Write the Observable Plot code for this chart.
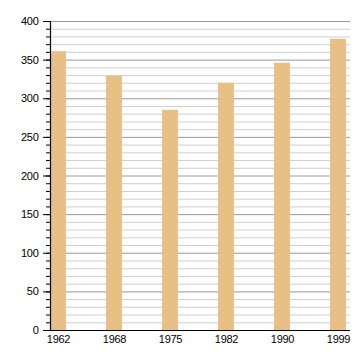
<!DOCTYPE html>
<html><head><meta charset="utf-8">
<script src="https://cdn.jsdelivr.net/npm/d3@7"></script>
<script src="https://cdn.jsdelivr.net/npm/@observablehq/plot@0.6"></script>
<style>body{margin:0;background:#fff}</style>
</head><body><div id="chart"></div>
<script>
const years = ["1962","1968","1975","1982","1990","1999"];
const values = [361, 329, 285, 320, 346, 377];
const minorTicks = d3.range(0, 401, 10);
const majorTicks = d3.range(0, 401, 50);
const data = years.map((y, i) => ({year: y, value: values[i]}));

const chart = Plot.plot({
  width: 360, height: 360,
  marginLeft: 50, marginRight: 10, marginTop: 21, marginBottom: 30,
  style: {fontFamily: "Liberation Sans, Arial, sans-serif", fontSize: "11px", background: "#fff", letterSpacing: "-0.3px"},
  x: {domain: years, paddingInner: 0.72, paddingOuter: 0, align: 0, label: null},
  y: {domain: [0, 400], label: null},
  marks: [
    Plot.ruleY(minorTicks.filter(d => d % 50 !== 0), {stroke: "#cfcfcf", strokeWidth: 1}),
    Plot.ruleY(majorTicks, {stroke: "#9a9a9a", strokeWidth: 1}),
    Plot.barY(data, {x: "year", y: "value", fill: "#e8bf86"}),
    Plot.ruleY([0], {stroke: "#000", strokeWidth: 1.2}),
    Plot.frame({anchor: "left", stroke: "#000", strokeWidth: 1.2}),
    Plot.axisY(minorTicks, {tickSize: 4, text: null, stroke: "#000"}),
    Plot.axisY(majorTicks, {tickSize: 7, tickPadding: 5, stroke: "#000", fill: "#000", fontSize: 11}),
    Plot.axisX({tickSize: 0, tickPadding: 5, fill: "#000", fontSize: 11})
  ]
});
document.getElementById("chart").append(chart);
</script>
</body></html>
